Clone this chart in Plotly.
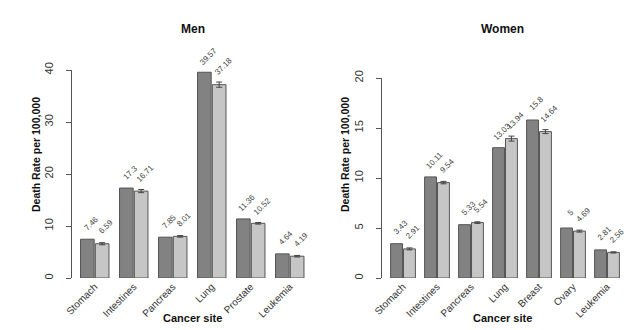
import plotly.graph_objects as go

men_sites = ["Stomach", "Intestines", "Pancreas", "Lung", "Prostate", "Leukemia"]
men_a = [7.46, 17.3, 7.85, 39.57, 11.36, 4.64]
men_b = [6.59, 16.71, 8.01, 37.18, 10.52, 4.19]
men_b_err = [0.2, 0.3, 0.15, 0.5, 0.15, 0.15]

women_sites = ["Stomach", "Intestines", "Pancreas", "Lung", "Breast", "Ovary", "Leukemia"]
women_a = [3.43, 10.11, 5.33, 13.03, 15.8, 5, 2.81]
women_b = [2.91, 9.54, 5.54, 13.94, 14.64, 4.69, 2.56]
women_b_err = [0.1, 0.12, 0.08, 0.25, 0.2, 0.1, 0.06]

W, H = 640, 330
DARK, LIGHT, EDGE = "#828282", "#c6c6c6", "#555555"
FONT = "Liberation Sans, Arial, sans-serif"
BARGAP = 0.24

fig = go.Figure()

def add_panel(sites, a, b, berr, xa, ya):
    fig.add_trace(go.Bar(x=sites, y=a, marker=dict(color=DARK, line=dict(color=EDGE, width=1)),
                         xaxis=xa, yaxis=ya, showlegend=False))
    fig.add_trace(go.Bar(x=sites, y=b, marker=dict(color=LIGHT, line=dict(color=EDGE, width=1)),
                         error_y=dict(type="data", array=berr, color="#444", thickness=1, width=3),
                         xaxis=xa, yaxis=ya, showlegend=False))

add_panel(men_sites, men_a, men_b, men_b_err, "x", "y")
add_panel(women_sites, women_a, women_b, women_b_err, "x2", "y2")

def px_x(p):
    return p / W

def px_y(p):
    return 1 - p / H

half = (1 - BARGAP) / 4
annotations = []

def add_labels(a, b, berr, xref, yref):
    for i, v in enumerate(a):
        annotations.append(dict(x=i - half, y=v, xref=xref, yref=yref, text=f"{v:g}",
                                showarrow=False, textangle=-45, xshift=4, yshift=16,
                                font=dict(size=8, color="#444", family=FONT)))
    for i, v in enumerate(b):
        annotations.append(dict(x=i + half, y=v + berr[i], xref=xref, yref=yref, text=f"{v:g}",
                                showarrow=False, textangle=-45, xshift=4, yshift=16,
                                font=dict(size=8, color="#444", family=FONT)))

add_labels(men_a, men_b, men_b_err, "x", "y")
add_labels(women_a, women_b, women_b_err, "x2", "y2")

titlefont = dict(size=12, color="#111", family=FONT)
axfont = dict(size=11, color="#111", family=FONT)
for txt, xp in [("<b>Men</b>", 193), ("<b>Women</b>", 502)]:
    annotations.append(dict(x=px_x(xp), y=px_y(29), xref="paper", yref="paper", text=txt,
                            xanchor="center", yanchor="middle", showarrow=False, font=titlefont))
for xp in [192, 502]:
    annotations.append(dict(x=px_x(xp), y=px_y(318), xref="paper", yref="paper",
                            xanchor="center", yanchor="middle",
                            text="<b>Cancer site</b>", showarrow=False, font=axfont))
for xp in [36, 345]:
    annotations.append(dict(x=px_x(xp), y=px_y(155), xref="paper", yref="paper",
                            xanchor="center", yanchor="middle",
                            text="<b>Death Rate per 100,000</b>", showarrow=False,
                            textangle=-90, font=dict(size=10.5, color="#111", family=FONT)))

tickfont = dict(size=10, color="#333", family=FONT)

# men x axis: first group center at px 94.75, pitch 39
mx0, mx1, mc, mp = 72, 310, 94.75, 39
wx0, wx1, wc, wp = 382, 625, 403, 34

xcommon = dict(showline=False, showgrid=False, zeroline=False, ticks="", tickangle=-45,
               tickfont=tickfont, type="category", automargin=False)
ycommon = dict(showline=True, linecolor=EDGE, linewidth=1, ticks="outside", ticklen=5,
               tickcolor=EDGE, showgrid=False, zeroline=False, tickangle=-90,
               tickfont=dict(size=11, color="#333", family=FONT), ticklabelstandoff=9,
               automargin=False)

fig.update_layout(
    width=W, height=H, margin=dict(l=0, r=0, t=0, b=0, pad=0),
    paper_bgcolor="white", plot_bgcolor="white",
    barmode="group", bargap=BARGAP, bargroupgap=0.08,
    xaxis=dict(domain=[px_x(mx0), px_x(mx1)], range=[(mx0 - mc) / mp, (mx1 - mc) / mp],
               anchor="y", **xcommon),
    yaxis=dict(domain=[px_y(278), px_y(70)], range=[0, 40], dtick=10, anchor="x", **ycommon),
    xaxis2=dict(domain=[px_x(wx0), px_x(wx1)], range=[(wx0 - wc) / wp, (wx1 - wc) / wp],
                anchor="y2", **xcommon),
    yaxis2=dict(domain=[px_y(278), px_y(78)], range=[0, 20], dtick=5, anchor="x2", **ycommon),
    annotations=annotations,
    font=dict(family=FONT),
)

fig.write_html("out.html", post_script="document.body.style.margin='0';")
